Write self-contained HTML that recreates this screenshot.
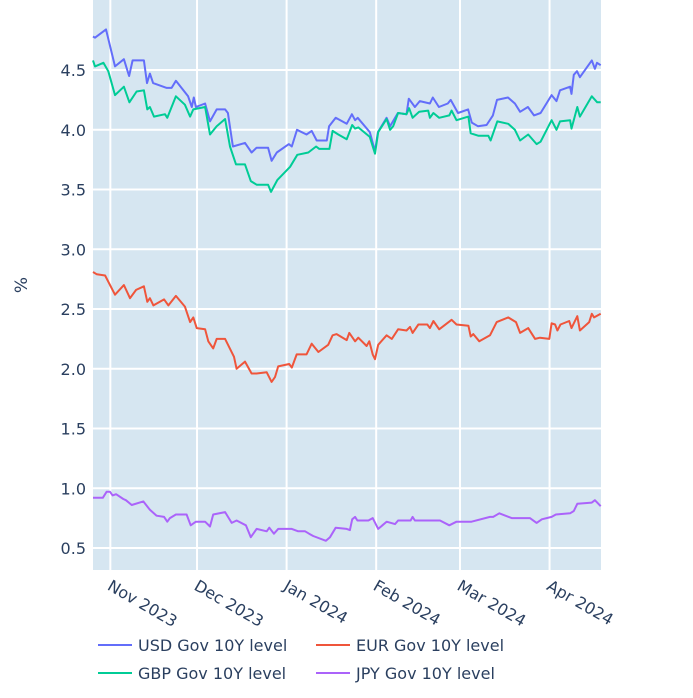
<!DOCTYPE html>
<html><head><meta charset="utf-8"><style>
body{margin:0;background:#fff;}
svg text{font-family:"DejaVu Sans","Liberation Sans",sans-serif;fill:#2a3f5f;}
</style></head><body>
<svg id="chart" width="693" height="693" xmlns="http://www.w3.org/2000/svg">
<rect x="93" y="0" width="508" height="570" fill="#d6e6f1"/>
<g id="grid"></g>
<g id="series"></g>
<g id="axes"></g>
<text x="27" y="285" font-size="17" text-anchor="middle" transform="rotate(-90 27 285)">%</text>
<g id="legend"></g>
</svg>
<script>
const yTicks = [0.5,1.0,1.5,2.0,2.5,3.0,3.5,4.0,4.5];
const xTickDays = [6,36,67,98,127,158];
const xTickLabels = ["Nov 2023","Dec 2023","Jan 2024","Feb 2024","Mar 2024","Apr 2024"];
const seriesNames = ["USD Gov 10Y level","EUR Gov 10Y level","GBP Gov 10Y level","JPY Gov 10Y level"];
const usdDays = [0,0.7,4.5,7.6,10.7,12.5,13.7,17.6,18.7,19.7,20.8,25.5,27.2,28.7,32.9,34.2,34.9,35.6,38.8,40.5,42.8,45.7,46.7,48.4,52.6,54.9,56.6,60.6,61.8,63.6,67.8,68.8,70.6,73.9,75.7,77.4,80.9,81.7,84.0,87.8,89.6,90.7,91.6,95.8,97.6,98.6,101.6,102.8,105.5,108.5,109.3,111.4,113.1,116.6,117.6,119.7,122.8,123.8,126.3,129.8,131.1,133.2,136.2,138.4,139.8,143.6,146.0,147.8,150.5,152.6,154.9,158.7,160.4,161.6,165.1,165.6,166.4,167.5,168.5,172.6,173.7,174.4,175.7];
const usdVals = [4.78,4.77,4.84,4.53,4.59,4.45,4.58,4.58,4.39,4.47,4.39,4.35,4.35,4.41,4.28,4.19,4.27,4.19,4.22,4.07,4.17,4.17,4.14,3.86,3.89,3.81,3.85,3.85,3.74,3.81,3.88,3.86,4.00,3.96,3.99,3.91,3.91,4.03,4.10,4.05,4.13,4.08,4.10,3.98,3.82,3.98,4.10,4.03,4.14,4.13,4.26,4.19,4.24,4.22,4.27,4.19,4.22,4.25,4.14,4.17,4.06,4.03,4.04,4.12,4.25,4.27,4.22,4.15,4.19,4.12,4.14,4.29,4.24,4.33,4.36,4.30,4.46,4.49,4.44,4.58,4.51,4.56,4.54];
const gbpDays = [0,0.7,3.6,5.3,7.6,10.7,12.6,15.1,17.6,18.8,19.7,21.1,24.9,25.7,28.7,31.8,33.6,34.7,38.8,40.5,42.8,45.7,47.4,49.5,52.6,54.6,56.6,60.6,61.6,63.8,68.2,70.7,74.5,77.2,78.3,81.8,82.9,84.9,87.8,89.7,90.7,91.8,95.8,97.6,98.7,101.6,102.8,103.9,105.6,108.5,109.4,110.6,112.9,116.0,116.6,117.8,119.8,123.3,124.1,125.8,129.9,130.7,133.3,136.8,137.6,139.9,143.7,146.0,147.8,150.6,153.5,154.9,158.7,160.4,161.6,165.1,165.6,167.6,168.5,172.6,174.5,175.7];
const gbpVals = [4.58,4.53,4.56,4.49,4.29,4.36,4.23,4.32,4.33,4.17,4.19,4.11,4.13,4.10,4.28,4.21,4.11,4.17,4.19,3.96,4.03,4.09,3.86,3.71,3.71,3.57,3.54,3.54,3.48,3.58,3.69,3.79,3.81,3.86,3.84,3.84,3.99,3.96,3.92,4.04,4.01,4.02,3.94,3.80,3.98,4.09,4.00,4.03,4.14,4.13,4.18,4.10,4.15,4.16,4.10,4.14,4.10,4.12,4.16,4.08,4.11,3.97,3.95,3.95,3.91,4.07,4.05,4.00,3.91,3.96,3.88,3.90,4.08,4.00,4.07,4.08,4.01,4.19,4.11,4.28,4.23,4.23];
const eurDays = [0,1.3,4.2,7.6,10.7,12.8,14.9,17.6,18.8,19.7,20.9,24.6,26.1,28.7,31.8,33.6,34.7,35.9,38.8,39.9,41.6,42.8,45.7,48.8,49.7,52.6,54.9,56.6,60.1,61.8,63.0,64.1,67.9,68.8,70.5,73.9,75.7,78.0,81.4,82.9,84.3,87.8,88.7,90.7,91.8,94.7,95.6,96.8,97.6,98.7,101.6,103.4,105.6,108.5,109.7,110.6,112.6,115.7,116.6,117.8,119.8,124.1,125.8,129.9,130.7,131.6,133.7,137.4,139.7,143.7,146.4,147.8,150.6,153.0,154.7,157.9,158.7,159.9,160.7,161.8,164.8,165.6,167.6,168.5,171.7,172.6,173.4,175.7];
const eurVals = [2.81,2.79,2.78,2.62,2.70,2.59,2.66,2.69,2.56,2.59,2.53,2.58,2.53,2.61,2.52,2.39,2.43,2.34,2.33,2.23,2.17,2.25,2.25,2.10,2.00,2.06,1.96,1.96,1.97,1.89,1.93,2.02,2.04,2.01,2.12,2.12,2.21,2.14,2.20,2.28,2.29,2.24,2.30,2.23,2.26,2.19,2.23,2.12,2.08,2.20,2.28,2.25,2.33,2.32,2.35,2.30,2.37,2.37,2.34,2.40,2.33,2.41,2.37,2.36,2.27,2.29,2.23,2.28,2.39,2.43,2.39,2.30,2.34,2.25,2.26,2.25,2.38,2.37,2.32,2.37,2.40,2.34,2.44,2.32,2.39,2.46,2.43,2.46];
const jpyDays = [0,3.4,4.7,5.9,6.8,8.0,10.5,11.4,13.4,17.4,19.7,22.0,24.6,25.7,26.6,28.7,32.4,33.8,35.6,38.8,40.5,41.6,45.7,48.0,49.7,52.9,54.6,56.6,60.1,61.0,62.6,64.1,68.8,71.0,73.4,74.8,76.2,80.6,82.0,84.0,87.8,88.9,89.7,90.7,91.5,95.3,96.8,98.7,101.6,104.5,105.6,109.9,110.6,111.4,116.6,120.1,123.3,125.8,131.0,137.4,138.5,140.6,144.9,151.2,153.5,155.3,158.7,160.2,165.1,166.4,167.6,172.6,173.7,175.7];
const jpyVals = [0.92,0.92,0.97,0.97,0.94,0.95,0.91,0.90,0.86,0.89,0.82,0.77,0.76,0.72,0.75,0.78,0.78,0.69,0.72,0.72,0.68,0.78,0.80,0.71,0.73,0.69,0.59,0.66,0.64,0.67,0.62,0.66,0.66,0.64,0.64,0.62,0.60,0.56,0.59,0.67,0.66,0.65,0.74,0.76,0.73,0.73,0.75,0.66,0.72,0.70,0.73,0.73,0.76,0.73,0.73,0.73,0.69,0.72,0.72,0.76,0.76,0.79,0.75,0.75,0.71,0.74,0.76,0.78,0.79,0.81,0.87,0.88,0.90,0.85];

const NS="http://www.w3.org/2000/svg";
const X0=93,X1=601,D0=0,D1=175.8;
const xScale=d=>X0+(d-D0)/(D1-D0)*(X1-X0);
const yScale=v=>548-(v-0.5)*119.5;
function mk(tag,attrs,parent){const e=document.createElementNS(NS,tag);for(const k in attrs)e.setAttribute(k,attrs[k]);parent.appendChild(e);return e;}
const grid=document.getElementById('grid'),axes=document.getElementById('axes'),ser=document.getElementById('series'),leg=document.getElementById('legend');
yTicks.forEach(v=>{
  const l=mk('line',{x1:X0,x2:X1,y1:yScale(v),y2:yScale(v),stroke:'#fff','stroke-width':2},grid);
  
  
  const t=mk('text',{x:86,y:yScale(v)+6,'font-size':16,'text-anchor':'end'},axes);
  
  
  t.textContent=v.toFixed(1);
});
xTickDays.forEach((d,i)=>{
  const x=xScale(d);
  const l=mk('line',{x1:x,x2:x,y1:0,y2:570,stroke:'#fff','stroke-width':2},grid);
  
  
  const t=mk('text',{x:x-4,y:589,'font-size':16,transform:`rotate(30 ${x-4} 589)`},axes);
  
  
  t.textContent=xTickLabels[i];
});
const colors=['#636efa','#EF553B','#00cc96','#ab63fa'];
const data=[[usdDays,usdVals],[eurDays,eurVals],[gbpDays,gbpVals],[jpyDays,jpyVals]];
const drawOrder=[0,1,2,3];
drawOrder.forEach(i=>{
  const [ds,vs]=data[i];
  const pts=ds.map((d,j)=>xScale(d).toFixed(1)+','+yScale(vs[j]).toFixed(1)).join(' ');
  const p=mk('polyline',{points:pts,fill:'none',stroke:colors[i],'stroke-width':2,'stroke-linejoin':'round'},ser);
  
  
});
const legPos=[[98,645],[316,645],[98,673],[316,673]];
const legOrder=[0,1,2,3];
legOrder.forEach((i,k)=>{
  const [x,y]=legPos[k];
  const g=mk('g',{},leg);
  
  
  mk('line',{x1:x,x2:x+34,y1:y,y2:y,stroke:colors[i],'stroke-width':2},g);
  const t=mk('text',{x:x+40,y:y+6,'font-size':16},g);
  t.textContent=seriesNames[i];
});
</script>
</body></html>
